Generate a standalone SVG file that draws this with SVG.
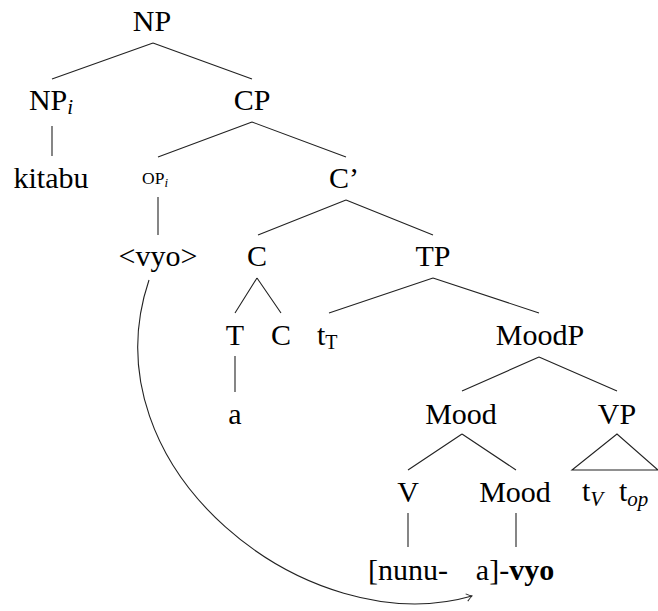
<svg xmlns="http://www.w3.org/2000/svg" width="658" height="611" viewBox="0 0 658 611">
<style>
  .lbl { text-anchor: middle; }
  .sub { font-size: 21px; font-style: italic; }
  .subr { font-size: 20px; }
  .sc { font-size: 17.5px; }
  .scsub { font-size: 13px; font-style: italic; }
  .b { font-weight: bold; }
  .edge { stroke: #222; stroke-width: 1.1; fill: none; }
</style>
<defs>
  <marker id="to" viewBox="-7 -5 9 10" markerWidth="9" markerHeight="10" refX="0" refY="0" orient="auto" markerUnits="userSpaceOnUse">
    <path d="M-5.5,-3.8 Q-1.5,-0.8 0,0 Q-1.5,0.8 -5.5,3.8" stroke="#222" stroke-width="1" fill="none"/>
  </marker>
</defs>
<rect width="658" height="611" fill="#fff"/>
<g id="connectors">
  <path class="edge" d="M153,43 L52,79 M153,43 L252,79"/>
  <path class="edge" d="M52,126 L52,156"/>
  <path class="edge" d="M252,122 L158,157 M252,122 L346,157"/>
  <path class="edge" d="M158,197 L158,235"/>
  <path class="edge" d="M346,200 L258,235 M346,200 L433,235"/>
  <path class="edge" d="M257,278 L235,313 M257,278 L281,313"/>
  <path class="edge" d="M433,278 L329,313 M433,278 L539,313"/>
  <path class="edge" d="M235,356 L235,392"/>
  <path class="edge" d="M539,357 L462,391 M539,357 L617,391"/>
  <path class="edge" d="M462,434 L408,470 M462,434 L516,470"/>
  <path class="edge" d="M617,434 L572,470 L658,470 Z"/>
  <path class="edge" d="M408,513 L408,547"/>
  <path class="edge" d="M516,513 L516,547"/>
  <path id="movement" class="edge" d="M149,280 C85,470 309,643 472,596" marker-end="url(#to)"/>
</g>
<g id="nodes" font-family="Liberation Serif, serif" font-size="30" fill="#000">
<g id="n-NP"><text class="lbl" x="152" y="31">NP</text></g>
<g id="n-NPi"><text class="lbl" x="51" y="110">NP<tspan class="sub" dy="4">i</tspan></text></g>
<g id="n-CP"><text class="lbl" x="252" y="110">CP</text></g>
<g id="n-kitabu"><text class="lbl" x="51" y="188">kitabu</text></g>
<g id="n-OPi"><text class="lbl" x="155" y="184"><tspan class="sc">OP</tspan><tspan class="scsub" dy="3">i</tspan></text></g>
<g id="n-Cbar"><text class="lbl" x="344" y="188">C’</text></g>
<g id="n-vyo"><text class="lbl" x="158" y="266">&lt;vyo&gt;</text></g>
<g id="n-C"><text class="lbl" x="257" y="266">C</text></g>
<g id="n-TP"><text class="lbl" x="433" y="266">TP</text></g>
<g id="n-T"><text class="lbl" x="235" y="345">T</text></g>
<g id="n-C2"><text class="lbl" x="281" y="345">C</text></g>
<g id="n-tT"><text x="317" y="345">t<tspan class="subr" dy="4">T</tspan></text></g>
<g id="n-MoodP"><text class="lbl" x="540" y="345">MoodP</text></g>
<g id="n-a"><text class="lbl" x="235" y="424">a</text></g>
<g id="n-Mood"><text class="lbl" x="461" y="424">Mood</text></g>
<g id="n-VP"><text class="lbl" x="617" y="424">VP</text></g>
<g id="n-V"><text class="lbl" x="408" y="502">V</text></g>
<g id="n-Mood2"><text class="lbl" x="515" y="502">Mood</text></g>
<g id="n-traces">
  <text x="582" y="501">t<tspan class="sub" dy="5">V</tspan></text>
  <text x="619" y="501">t<tspan class="sub" dy="5">op</tspan></text>
</g>
<g id="n-nunu"><text class="lbl" x="408" y="580">[nunu-</text></g>
<g id="n-avyo"><text class="lbl" x="515" y="580">a]-<tspan class="b">vyo</tspan></text></g>
</g>
</svg>
